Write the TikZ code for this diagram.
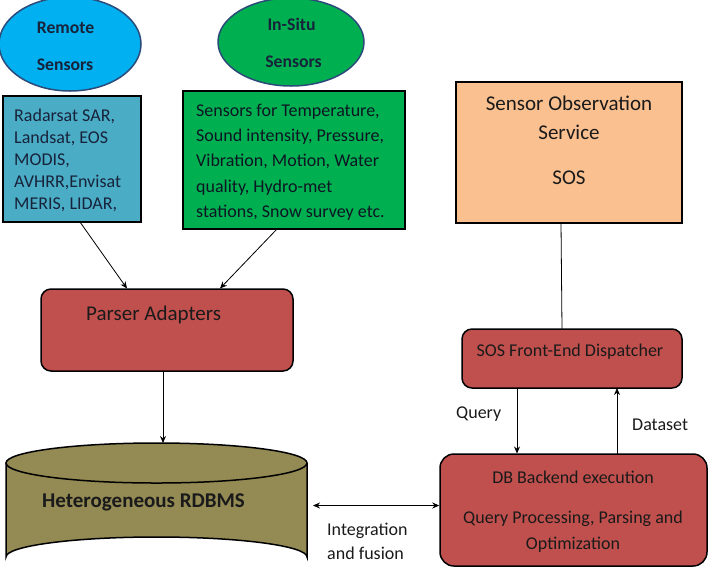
\documentclass[tikz,border=0pt]{standalone}
\usepackage{fontspec}
\setmainfont{Carlito}
\usetikzlibrary{arrows.meta,shapes.geometric}
\definecolor{remoteblue}{HTML}{00B0F0}
\definecolor{insitugreen}{HTML}{00B050}
\definecolor{boxblue}{HTML}{4BACC6}
\definecolor{redbox}{HTML}{C0504D}
\definecolor{olive}{HTML}{948A54}
\definecolor{peach}{HTML}{FAC090}
\definecolor{navy}{HTML}{17233A}
\definecolor{ellborder}{HTML}{2B4A7A}
\definecolor{txt}{HTML}{1A1A1A}
\tikzset{
  ell/.style={ellipse, draw=ellborder, line width=1.5pt},
  plainbox/.style={draw=black, line width=1.5pt, inner sep=0pt},
  roundbox/.style={draw=black, line width=1.5pt, rounded corners=10pt, fill=redbox, inner sep=0pt},
  lbl/.style={inner sep=0pt, text=txt, font=\fontsize{18}{21}\selectfont},
  blbl/.style={inner sep=0pt, text=navy, font=\bfseries\fontsize{17.7}{21}\selectfont},
  big/.style={lbl, font=\fontsize{21}{25}\selectfont},
  conn/.style={line width=0.8pt, -{Stealth[length=7pt,width=6pt]}},
}
\begin{document}
\begin{tikzpicture}[x=1pt,y=-1pt]
\useasboundingbox (0,0) rectangle (708,582);
% ellipses
\node[ell, fill=remoteblue, minimum width=142pt, minimum height=94pt] (remote) at (70,44) {};
\node[blbl, anchor=base] (remoteA) at (65.5,33) {Remote};
\node[blbl, anchor=base] (remoteB) at (65,70) {Sensors};
\node[ell, fill=insitugreen, minimum width=146pt, minimum height=88pt] (insitu) at (291,42) {};
\node[blbl, anchor=base] (insituA) at (291.5,30) {In-Situ};
\node[blbl, anchor=base] (insituB) at (293.5,67) {Sensors};
% sensor boxes
\node[plainbox, fill=boxblue, minimum width=138pt, minimum height=126pt] (rbox) at (72,159) {};
\foreach \t [count=\i from 0] in {{Radarsat SAR,},{Landsat, EOS},{MODIS,},{AVHRR,Envisat},{MERIS, LIDAR,}}
  \node[lbl, text=navy, anchor=base west] (r\i) at (14,121+22*\i) {\t};
\node[plainbox, fill=insitugreen, minimum width=222pt, minimum height=138pt] (gbox) at (294,160) {};
\foreach \t/\yy [count=\i from 0] in {{Sensors for Temperature,}/116,{Sound intensity, Pressure,}/141,{Vibration, Motion, Water}/166,{quality, Hydro-met}/192,{stations, Snow survey etc.}/217}
  \node[lbl, text=navy!60!black, anchor=base west] (g\i) at (196,\yy) {\t};
% parser
\node[roundbox, minimum width=252pt, minimum height=82pt] (parser) at (167,330) {};
\node[big, anchor=base west] (parsertext) at (86,320) {Parser Adapters};
% cylinder
\fill[olive] (6,463) arc[start angle=180, end angle=360, x radius=150.5, y radius=20] -- (307,557) arc[start angle=0, end angle=-180, x radius=150.5, y radius=20] -- cycle;
\fill[olive] (156.5,463) ellipse[x radius=150.5, y radius=20];
\draw[line width=1.5pt] (6,463) -- (6,557) arc[start angle=180, end angle=360, x radius=150.5, y radius=20] -- (307,463);
\draw[line width=1.5pt] (156.5,463) ellipse[x radius=150.5, y radius=20];
\coordinate (dbtop) at (163,443);
\coordinate (dbright) at (313,505.5);
\node[big, font=\bfseries\fontsize{21}{25}\selectfont, anchor=base west] (dbtext) at (42,507) {Heterogeneous RDBMS};
% SOS
\node[plainbox, fill=peach, minimum width=226pt, minimum height=141pt] (sos) at (569,152.5) {};
\node[big, anchor=base] (sosA) at (569,110) {Sensor Observation};
\node[big, anchor=base] (sosB) at (569,139) {Service};
\node[big, anchor=base] (sosC) at (569,184) {SOS};
% dispatcher
\node[roundbox, minimum width=220pt, minimum height=59pt] (disp) at (572,358.5) {};
\node[lbl, anchor=base] (disptext) at (570,356) {SOS Front-End Dispatcher};
% backend
\node[roundbox, rounded corners=14pt, minimum width=267pt, minimum height=112pt] (back) at (573.5,510) {};
\node[lbl, anchor=base] (backA) at (573,483) {DB Backend execution};
\node[lbl, anchor=base] (backB) at (573,523) {Query Processing, Parsing and};
\node[lbl, anchor=base] (backC) at (573,549) {Optimization};
% labels
\node[lbl, anchor=base west] (integA) at (327,535) {Integration};
\node[lbl, anchor=base west] (integB) at (327,559) {and fusion};
\node[lbl, anchor=base west] (querylbl) at (456,418) {Query};
\node[lbl, anchor=base west] (datalbl) at (632,430) {Dataset};
% connectors
\draw[conn] (80,222) -- (127,288.5);
\draw[conn] (277,229) -- (220,288.5);
\draw[conn] (163,371) -- (dbtop);
\draw[line width=0.8pt, {Stealth[length=7pt,width=6pt]}-{Stealth[length=7pt,width=6pt]}] (dbright) -- (back.west |- dbright);
\draw[line width=0.8pt] (561,223) -- (562,329);
\draw[conn] (517,388) -- (517,453.5);
\draw[conn] (617,453.5) -- (617,388);
\end{tikzpicture}
\end{document}
